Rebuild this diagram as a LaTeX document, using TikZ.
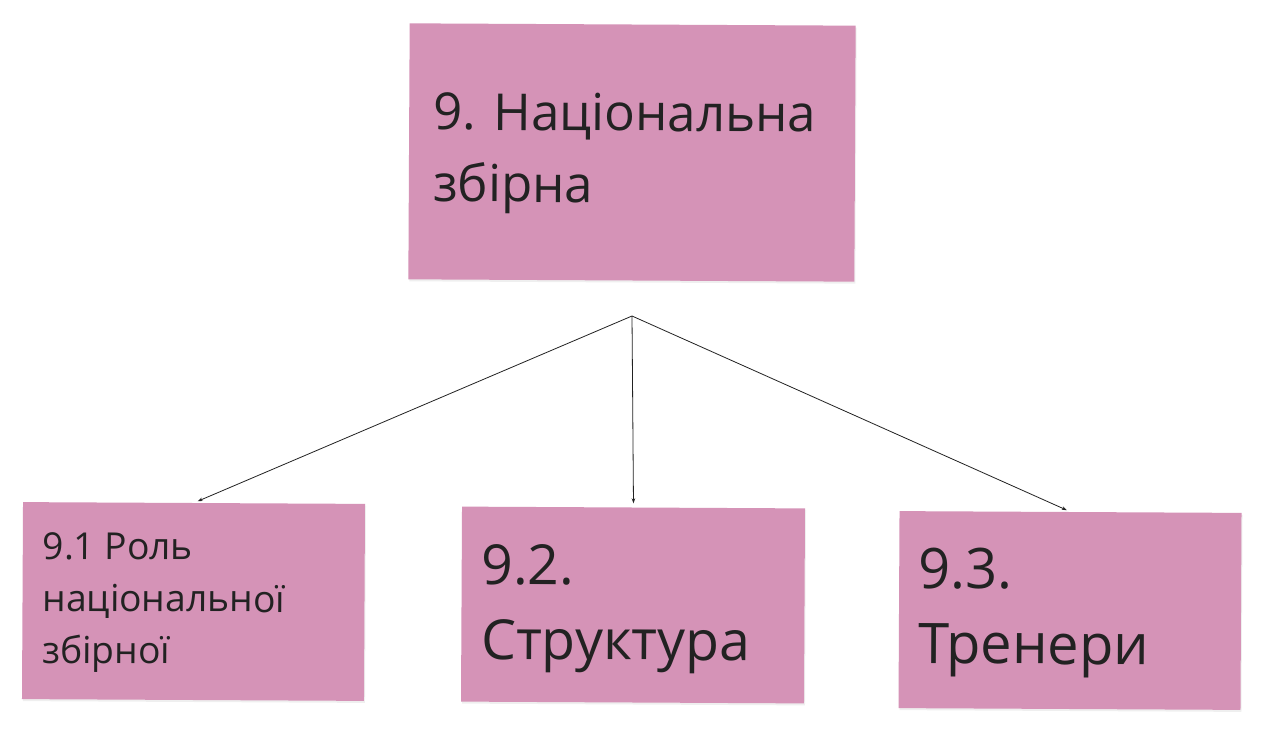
\documentclass[tikz,border=0pt]{standalone}
\usepackage{fontspec}
\setmainfont{Open Sans}
\usetikzlibrary{arrows.meta,shadows}
\definecolor{notepink}{RGB}{213,147,183}
\definecolor{inkgray}{RGB}{34,34,34}
\tikzset{
    note/.style={fill=notepink, draw=none, inner sep=0pt, rotate=-0.3,
        drop shadow={shadow xshift=1pt, shadow yshift=-2pt, opacity=0.12}},
    notetext/.style={anchor=base west, align=left, inner sep=0pt, text=inkgray, rotate=-0.3},
    arr/.style={-{Stealth[length=5pt,width=3.5pt]}, line width=0.8pt, draw=inkgray, shorten >=4pt}
}
\begin{document}
\begin{tikzpicture}[x=1pt, y=-1pt]
        \useasboundingbox[fill=white] (0,0) rectangle (1263,754);

        % sticky notes
        \node[note, minimum width=446pt, minimum height=256pt] (nat) at (632,152.5) {};
        \node[note, minimum width=342pt, minimum height=197pt] (role) at (193.5,601.5) {};
        \node[note, minimum width=343pt, minimum height=195pt] (struct) at (633,605) {};
        \node[note, minimum width=342pt, minimum height=197pt] (coach) at (1070,610.5) {};

        % labels, anchored at the baseline of their last line
        \node[notetext, font=\fontsize{51}{71.7}\selectfont] (natlbl) at (433,201.5) {9. Національна\\збірна};
        \node[notetext, font=\fontsize{37.2}{52}\selectfont] (rolelbl) at (42,663) {9.1 Роль\\національної\\збірної};
        \node[notetext, font=\fontsize{55.3}{74.7}\selectfont] (structlbl) at (481,659) {9.2.\\Структура};
        \node[notetext, font=\fontsize{56}{75}\selectfont] (coachlbl) at (918,663.5) {9.3.\\Тренери};

        % arrows
        \coordinate (fork) at (632,316);
        \foreach \t in {role, struct, coach}
        {
            \draw[arr] (fork) -- (\t.north);
        }
\end{tikzpicture}
\end{document}
